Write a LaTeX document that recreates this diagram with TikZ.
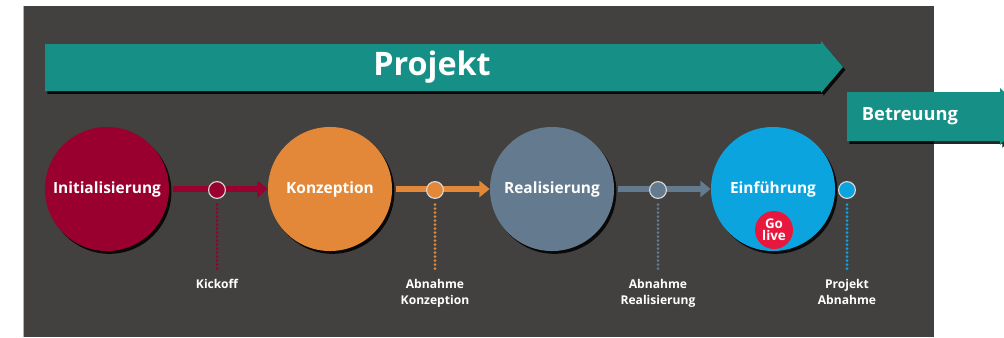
\documentclass[tikz,border=0pt]{standalone}
\usepackage{fontspec}
\setmainfont{Open Sans}
\usepackage{tikz}
\usetikzlibrary{calc,arrows.meta,shadows}

\definecolor{dunkel}{RGB}{66,65,63}
\definecolor{petrol}{RGB}{22,143,135}
\definecolor{rot}{RGB}{153,0,48}
\definecolor{orange}{RGB}{226,136,56}
\definecolor{schiefer}{RGB}{100,122,142}
\definecolor{blau}{RGB}{12,164,222}
\definecolor{golive}{RGB}{232,23,62}

\tikzset{
	schatten/.style={drop shadow={shadow xshift=0.06cm, shadow yshift=-0.07cm, fill=black, opacity=0.85}},
	phase/.style={circle, fill=#1, minimum size=3.1cm, inner sep=0pt, text=white,
		font=\fontsize{11}{13}\selectfont\bfseries, schatten},
	meilenstein/.style={circle, fill=#1, draw=white!85!black, line width=0.8pt, minimum size=0.42cm, inner sep=0pt},
	balken/.style={draw=#1, line width=0.15cm, -{Triangle[length=0.26cm,width=0.4cm]}},
	punkte/.style={draw=#1, line width=0.075cm, line cap=round, dash pattern=on 0pt off 0.1cm},
	etikett/.style={text=white, font=\fontsize{8.6}{11.3}\selectfont\bfseries, align=center, inner sep=0pt, anchor=north},
}

\begin{document}
\begin{tikzpicture}[x=0.025cm,y=-0.025cm]
		\clip (0,0) rectangle (1004,337);
		\fill [dunkel] (23,6) rectangle (934,337);
		\draw [gray!60, line width=0.5pt] (23,6) -- (23,337);
		\fill [petrol, schatten]
			(45,44) -- (821,44) -- (821,41) -- (843,67) -- (821,93) -- (821,91) -- (45,91) -- cycle;
		\node [text=white, font=\fontsize{23}{27}\selectfont\bfseries] (projekt) at (432,67) {Projekt};
		\fill [petrol, schatten]
			(847,92) -- (1000,92) -- (1000,88) -- (1028,116) -- (1000,145) -- (1000,141) -- (847,141) -- cycle;
		\node [text=white, font=\fontsize{13}{15}\selectfont\bfseries] (betreuung) at (910,116) {Betreuung};
		\node [phase=rot] (init) at (107,189) {Initialisierung};
		\node [phase=orange] (konz) at (330,189) {Konzeption};
		\node [phase=schiefer] (real) at (552,189) {Realisierung};
		\node [phase=blau] (einf) at (773,189) {Einführung};
		\draw [balken=rot, shorten <=0.1cm] (init) -- (konz);
		\draw [balken=orange, shorten <=0.1cm] (konz) -- (real);
		\draw [balken=schiefer, shorten <=0.1cm] (real) -- (einf);
		\node [meilenstein=rot] (kickoff) at (217,190) {};
		\node [meilenstein=orange] (abnkonz) at (435,190) {};
		\node [meilenstein=schiefer] (abnreal) at (658,190) {};
		\node [meilenstein=blau] (abnprojekt) at (847,190) {};
		\node [etikett] (kickofftext) at (217,279) {Kickoff};
		\node [etikett] (abnkonztext) at (435,279) {Abnahme\\Konzeption};
		\node [etikett] (abnrealtext) at (658,279) {Abnahme\\Realisierung};
		\node [etikett] (abnprojekttext) at (847,279) {Projekt\\Abnahme};
		\draw [punkte=rot] ([yshift=-0.14cm]kickoff.south) -- ([yshift=0.18cm]kickofftext.north);
		\draw [punkte=orange] ([yshift=-0.14cm]abnkonz.south) -- ([yshift=0.18cm]abnkonztext.north);
		\draw [punkte=schiefer] ([yshift=-0.14cm]abnreal.south) -- ([yshift=0.18cm]abnrealtext.north);
		\draw [punkte=blau] ([yshift=-0.14cm]abnprojekt.south) -- ([yshift=0.18cm]abnprojekttext.north);
		\node [circle, fill=golive, minimum size=0.95cm, inner sep=0pt, text=white, align=center,
			font=\fontsize{9.5}{8.5}\selectfont\bfseries] (golivepunkt) at (774,230) {Go\\live};
\end{tikzpicture}
\end{document}
